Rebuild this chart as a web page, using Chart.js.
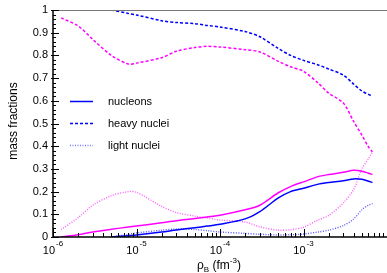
<!DOCTYPE html>
<html>
<head>
<meta charset="utf-8">
<script src="https://cdn.jsdelivr.net/npm/chart.js@4"></script>
<style>
  html, body { margin: 0; padding: 0; background: #fff; }
  #wrap { width: 387px; height: 273px; }
</style>
</head>
<body>
<div id="wrap"><canvas id="myChart" width="387" height="273"></canvas></div>
<script>
// baryon density values (fm^-3)
var densities = [1.25e-6, 2e-6, 3e-6, 5e-6, 8e-6, 1e-5, 2e-5, 3e-5, 5e-5, 7e-5,
  1e-4, 2e-4, 3e-4, 5e-4, 7e-4, 1e-3, 1.5e-3, 2e-3, 3e-3, 4e-3, 5e-3, 6e-3, 6.7e-3];

// blue curves (start at 5e-6)
var blueNucleons = [null, null, null, 0.0, 0.006, 0.009, 0.022, 0.031, 0.041, 0.048,
  0.056, 0.08, 0.112, 0.172, 0.2, 0.215, 0.233, 0.24, 0.248, 0.256, 0.254, 0.246, 0.24];
var blueHeavy = [null, null, null, 1.0, 0.985, 0.978, 0.953, 0.945, 0.94, 0.932,
  0.925, 0.905, 0.882, 0.83, 0.8, 0.778, 0.758, 0.74, 0.713, 0.673, 0.643, 0.628, 0.62];
var blueLight = [null, null, null, 0.0, 0.012, 0.018, 0.03, 0.035, 0.033, 0.028,
  0.022, 0.016, 0.012, 0.009, 0.01, 0.013, 0.022, 0.03, 0.05, 0.08, 0.12, 0.14, 0.147];

// magenta curves
var magentaNucleons = [0.0, 0.01, 0.022, 0.034, 0.044, 0.048, 0.063, 0.072, 0.081, 0.088,
  0.096, 0.12, 0.14, 0.195, 0.222, 0.243, 0.266, 0.275, 0.285, 0.294, 0.29, 0.281, 0.275];
var magentaHeavy = [0.965, 0.93, 0.87, 0.8, 0.762, 0.766, 0.79, 0.818, 0.835, 0.84,
  0.837, 0.825, 0.815, 0.774, 0.75, 0.73, 0.678, 0.634, 0.59, 0.508, 0.449, 0.397, 0.375];
var magentaLight = [0.033, 0.085, 0.14, 0.182, 0.2, 0.197, 0.135, 0.108, 0.092, 0.084,
  0.075, 0.066, 0.045, 0.03, 0.032, 0.043, 0.075, 0.095, 0.15, 0.21, 0.3, 0.345, 0.375];

var yTicks = [0, 0.1, 0.2, 0.3, 0.4, 0.5, 0.6, 0.7, 0.8, 0.9, 1];
var yTickLabels = ["0", "0.1", "0.2", "0.3", "0.4", "0.5", "0.6", "0.7", "0.8", "0.9", "1"];
var xDecades = [-6, -5, -4, -3];
var legendLabels = ["nucleons", "heavy nuclei", "light nuclei"];

var BLUE = "#0000ff";
var MAGENTA = "#ff00ff";
var FONT = "'Liberation Sans', Arial, sans-serif";

function points(values) {
  var out = [];
  for (var i = 0; i < densities.length; i++) {
    if (values[i] !== null) out.push({ x: densities[i], y: values[i] });
  }
  return out;
}

function line(label, values, color, dash, width) {
  return {
    label: label,
    data: points(values),
    borderColor: color,
    backgroundColor: color,
    borderWidth: width,
    borderDash: dash,
    pointRadius: 0,
    tension: 0.3,
    fill: false
  };
}

// axes, ticks, labels and legend drawn on top of the plot
var framePlugin = {
  id: "frame",
  afterDraw: function (chart) {
    var ctx = chart.ctx;
    var a = chart.chartArea;
    var xs = chart.scales.x;
    var ys = chart.scales.y;
    ctx.save();

    // top border
    ctx.strokeStyle = "#777";
    ctx.lineWidth = 1;
    ctx.beginPath();
    ctx.moveTo(a.left, a.top + 0.5);
    ctx.lineTo(a.right, a.top + 0.5);
    ctx.stroke();

    // left and bottom axis
    ctx.strokeStyle = "#000";
    ctx.lineWidth = 1.5;
    ctx.beginPath();
    ctx.moveTo(a.left, a.top);
    ctx.lineTo(a.left, a.bottom);
    ctx.lineTo(a.right, a.bottom);
    ctx.stroke();

    // y ticks
    ctx.lineWidth = 1;
    ctx.beginPath();
    for (var v = 0; v <= 50; v++) {
      var py = Math.round(ys.getPixelForValue(v / 50)) + 0.5;
      var major = v % 5 === 0;
      ctx.moveTo(a.left - (major ? 2 : 0), py);
      ctx.lineTo(a.left + (major ? 6 : 3), py);
    }
    ctx.stroke();

    // x ticks
    ctx.beginPath();
    xDecades.forEach(function (d) {
      for (var m = 1; m <= 9; m++) {
        var px = Math.round(xs.getPixelForValue(m * Math.pow(10, d))) + 0.5;
        if (px > a.right) continue;
        ctx.moveTo(px, a.bottom);
        ctx.lineTo(px, a.bottom - (m === 1 ? 8 : 4));
      }
    });
    ctx.stroke();

    // y tick labels
    ctx.fillStyle = "#000";
    ctx.font = "11px " + FONT;
    ctx.textAlign = "right";
    ctx.textBaseline = "middle";
    yTicks.forEach(function (t, i) {
      ctx.fillText(yTickLabels[i], a.left - 5, ys.getPixelForValue(t));
    });

    // x tick labels as 10^n
    ctx.textBaseline = "alphabetic";
    ctx.textAlign = "left";
    xDecades.forEach(function (d) {
      var px = xs.getPixelForValue(Math.pow(10, d));
      ctx.font = "11px " + FONT;
      var w1 = ctx.measureText("10").width;
      ctx.font = "8px " + FONT;
      var exp = "-" + Math.abs(d);
      var w2 = ctx.measureText(exp).width;
      var x0 = px - (w1 + w2 + 1) / 2;
      ctx.font = "11px " + FONT;
      ctx.fillText("10", x0, 254);
      ctx.font = "8px " + FONT;
      ctx.fillText(exp, x0 + w1 + 1, 246);
    });

    // x axis title: rho_B (fm^-3)
    var parts = [
      { t: "\u03c1", f: 12, dy: 0 },
      { t: "B", f: 8, dy: 3 },
      { t: " (fm", f: 12, dy: 0 },
      { t: "-3", f: 8, dy: -6 },
      { t: ")", f: 12, dy: 0 }
    ];
    var total = 0;
    parts.forEach(function (p) {
      ctx.font = p.f + "px " + FONT;
      p.w = ctx.measureText(p.t).width;
      total += p.w;
    });
    var cx = 219 - total / 2;
    parts.forEach(function (p) {
      ctx.font = p.f + "px " + FONT;
      ctx.fillText(p.t, cx, 269 + p.dy);
      cx += p.w;
    });

    // y axis title
    ctx.save();
    ctx.translate(17, 121);
    ctx.rotate(-Math.PI / 2);
    ctx.textAlign = "center";
    ctx.textBaseline = "alphabetic";
    ctx.font = "12px " + FONT;
    ctx.fillText("mass fractions", 0, 0);
    ctx.restore();

    // legend
    var dashes = [[], [3, 2], [1, 1.5]];
    ctx.font = "11px " + FONT;
    ctx.textAlign = "left";
    ctx.textBaseline = "middle";
    legendLabels.forEach(function (lab, i) {
      var ly = 101.5 + i * 22;
      ctx.strokeStyle = i === 2 ? "#7a7aff" : BLUE;
      ctx.lineWidth = 1.5;
      ctx.setLineDash(dashes[i]);
      ctx.beginPath();
      ctx.moveTo(70, ly);
      ctx.lineTo(93, ly);
      ctx.stroke();
      ctx.setLineDash([]);
      ctx.fillStyle = "#000";
      ctx.fillText(lab, 108, ly);
    });

    ctx.restore();
  }
};

window.onload = function () {
  var ctx = document.getElementById("myChart").getContext("2d");
  new Chart(ctx, {
    type: "line",
    data: {
      datasets: [
        line("nucleons", blueNucleons, BLUE, [], 1.5),
        line("heavy nuclei", blueHeavy, BLUE, [3, 2], 1.5),
        line("light nuclei", blueLight, "#5a5aff", [1, 1.5], 1.4),
        line("nucleons", magentaNucleons, MAGENTA, [], 1.5),
        line("heavy nuclei", magentaHeavy, MAGENTA, [3, 2], 1.5),
        line("light nuclei", magentaLight, "#ff5aff", [1, 1.5], 1.4)
      ]
    },
    options: {
      responsive: false,
      animation: false,
      layout: { padding: { left: 53, top: 10, right: 0, bottom: 36 } },
      plugins: { legend: { display: false }, tooltip: { enabled: false } },
      scales: {
        x: {
          type: "logarithmic",
          min: 1e-6,
          max: 1e-2,
          display: false
        },
        y: {
          type: "linear",
          min: 0,
          max: 1,
          display: false
        }
      }
    },
    plugins: [framePlugin]
  });
};
</script>
</body>
</html>
